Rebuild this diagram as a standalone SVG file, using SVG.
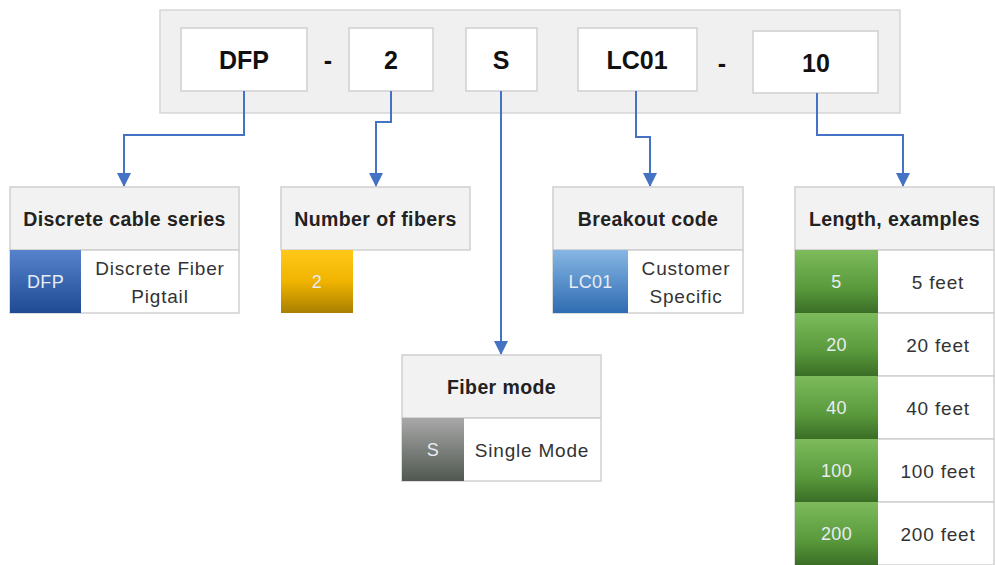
<svg xmlns="http://www.w3.org/2000/svg" width="995" height="565" viewBox="0 0 995 565">
<defs>
<linearGradient id="gBlue" x1="0" y1="0" x2="0" y2="1"><stop offset="0" stop-color="#5683cc"/><stop offset="1" stop-color="#1f4a94"/></linearGradient>
<linearGradient id="gLBlue" x1="0" y1="0" x2="0" y2="1"><stop offset="0" stop-color="#86b6e4"/><stop offset="1" stop-color="#2f6cb2"/></linearGradient>
<linearGradient id="gYel" x1="0" y1="0" x2="0" y2="1"><stop offset="0" stop-color="#ffc819"/><stop offset="0.5" stop-color="#f0b400"/><stop offset="1" stop-color="#a87f00"/></linearGradient>
<linearGradient id="gGreen" x1="0" y1="0" x2="0" y2="1"><stop offset="0" stop-color="#7dbb5c"/><stop offset="0.6" stop-color="#5a9a3c"/><stop offset="1" stop-color="#3a6e26"/></linearGradient>
<linearGradient id="gGray" x1="0" y1="0" x2="0" y2="1"><stop offset="0" stop-color="#a8a8a8"/><stop offset="1" stop-color="#505850"/></linearGradient>
<marker id="arr" markerWidth="14" markerHeight="14" refX="7" refY="13" orient="0" markerUnits="userSpaceOnUse"><path d="M0,0 L14,0 L7,14 Z" fill="#4472c4"/></marker>
<style>
.outer{fill:#f0f0f0;stroke:#d6d6d6;stroke-width:1.5}
.code{fill:#ffffff;stroke:#d0d0d0;stroke-width:1.5}
.codeT{font-family:"Liberation Sans",Arial,sans-serif;font-weight:bold;font-size:25px;fill:#111;text-anchor:middle}
.hdr{fill:#f2f2f2;stroke:#d0d0d0;stroke-width:1.5}
.hdrT{font-family:"Liberation Sans",Arial,sans-serif;font-weight:bold;font-size:19.5px;letter-spacing:0.4px;fill:#222;text-anchor:middle}
.row{fill:#ffffff;stroke:#d0d0d0;stroke-width:1.5}
.cellT{font-family:"Liberation Sans",Arial,sans-serif;font-size:18px;letter-spacing:0.3px;fill:#e8ecf4;text-anchor:middle}
.bodyT{font-family:"Liberation Sans",Arial,sans-serif;font-size:19px;letter-spacing:0.8px;fill:#333;text-anchor:middle}
.conn{fill:none;stroke:#4472c4;stroke-width:2}
</style>
</defs>
<rect width="995" height="565" fill="#ffffff"/>

<g id="partnumber">
<rect class="outer" x="160" y="10" width="740" height="103"/>
<rect class="code" x="181" y="28" width="126" height="63"/>
<text class="codeT" x="244" y="69">DFP</text>
<text class="codeT" x="328" y="69">-</text>
<rect class="code" x="349" y="28" width="84" height="63"/>
<text class="codeT" x="391" y="69">2</text>
<rect class="code" x="466" y="28" width="71" height="63"/>
<text class="codeT" x="501" y="69">S</text>
<rect class="code" x="578" y="28" width="119" height="63"/>
<text class="codeT" x="637" y="69">LC01</text>
<text class="codeT" x="722" y="72">-</text>
<rect class="code" x="753" y="31" width="125" height="62"/>
<text class="codeT" x="816" y="72">10</text>
</g>

<g id="connectors">
<path class="conn" d="M244,91 V135 H124 V186" marker-end="url(#arr)"/>
<path class="conn" d="M391,91 V122 H376 V186" marker-end="url(#arr)"/>
<path class="conn" d="M501,91 V354" marker-end="url(#arr)"/>
<path class="conn" d="M636,91 V137 H650 V186" marker-end="url(#arr)"/>
<path class="conn" d="M817,93 V135 H903 V186" marker-end="url(#arr)"/>
</g>

<g id="series">
<rect class="hdr" x="10" y="187" width="229" height="63"/>
<text class="hdrT" x="124.5" y="226">Discrete cable series</text>
<rect class="row" x="10" y="250" width="229" height="63"/>
<rect x="10" y="250" width="71" height="63" fill="url(#gBlue)"/>
<text class="cellT" x="45.5" y="288">DFP</text>
<text class="bodyT" x="160" y="275">Discrete Fiber</text>
<text class="bodyT" x="160" y="303">Pigtail</text>
</g>

<g id="fibers">
<rect class="hdr" x="281" y="187" width="189" height="63"/>
<text class="hdrT" x="375.5" y="226">Number of fibers</text>
<rect x="281" y="250" width="72" height="63" fill="url(#gYel)"/>
<text class="cellT" x="317" y="288">2</text>
</g>

<g id="breakout">
<rect class="hdr" x="553" y="187" width="190" height="63"/>
<text class="hdrT" x="648" y="226">Breakout code</text>
<rect class="row" x="553" y="250" width="190" height="63"/>
<rect x="553" y="250" width="75" height="63" fill="url(#gLBlue)"/>
<text class="cellT" x="590.5" y="288">LC01</text>
<text class="bodyT" x="686" y="275">Customer</text>
<text class="bodyT" x="686" y="303">Specific</text>
</g>

<g id="mode">
<rect class="hdr" x="402" y="355" width="199" height="63"/>
<text class="hdrT" x="501.5" y="394">Fiber mode</text>
<rect class="row" x="402" y="418" width="199" height="63"/>
<rect x="402" y="418" width="62" height="63" fill="url(#gGray)"/>
<text class="cellT" x="433" y="456">S</text>
<text class="bodyT" x="532" y="457">Single Mode</text>
</g>

<g id="length">
<rect class="hdr" x="795" y="187" width="199" height="63"/>
<text class="hdrT" x="894.5" y="226">Length, examples</text>
<rect class="row" x="795" y="250" width="199" height="63"/>
<rect class="row" x="795" y="313" width="199" height="63"/>
<rect class="row" x="795" y="376" width="199" height="63"/>
<rect class="row" x="795" y="439" width="199" height="63"/>
<rect class="row" x="795" y="502" width="199" height="63"/>
<rect x="795" y="250" width="83" height="63" fill="url(#gGreen)"/>
<rect x="795" y="313" width="83" height="63" fill="url(#gGreen)"/>
<rect x="795" y="376" width="83" height="63" fill="url(#gGreen)"/>
<rect x="795" y="439" width="83" height="63" fill="url(#gGreen)"/>
<rect x="795" y="502" width="83" height="63" fill="url(#gGreen)"/>
<text class="cellT" x="836.5" y="288">5</text>
<text class="cellT" x="836.5" y="351">20</text>
<text class="cellT" x="836.5" y="414">40</text>
<text class="cellT" x="836.5" y="477">100</text>
<text class="cellT" x="836.5" y="540">200</text>
<text class="bodyT" x="938" y="289">5 feet</text>
<text class="bodyT" x="938" y="352">20 feet</text>
<text class="bodyT" x="938" y="415">40 feet</text>
<text class="bodyT" x="938" y="478">100 feet</text>
<text class="bodyT" x="938" y="541">200 feet</text>
</g>
</svg>
